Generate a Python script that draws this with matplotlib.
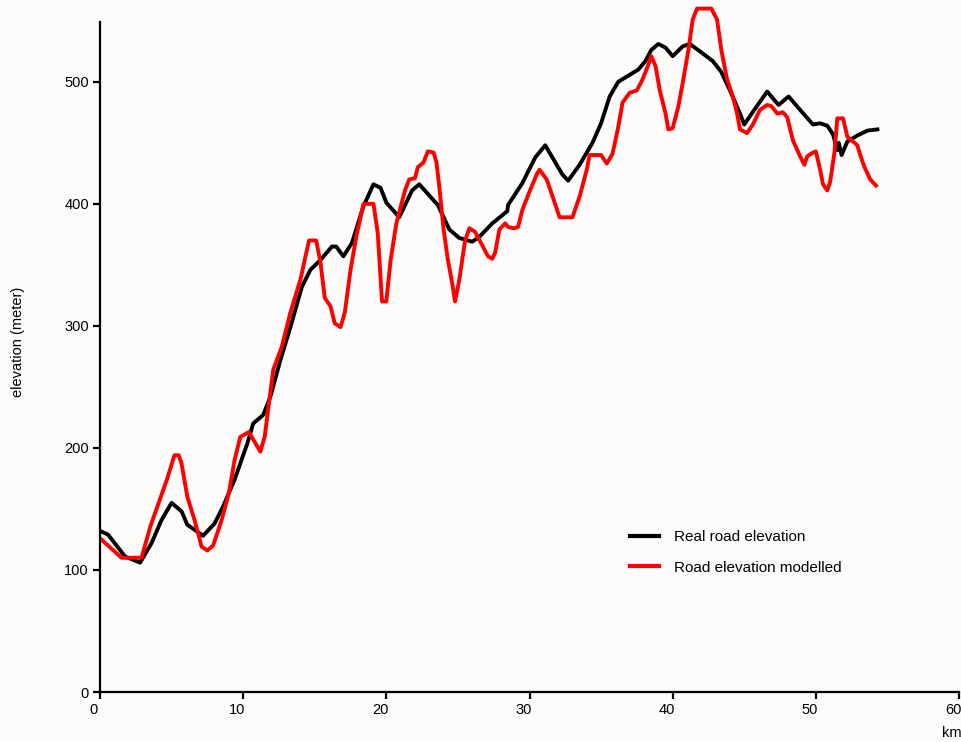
import matplotlib.pyplot as plt
import matplotlib.transforms as mtransforms

plt.rcParams["font.family"] = ["Liberation Sans", "DejaVu Sans"]

# Real road elevation (km, meter)
real_km = [0.0, 0.56, 1.75, 2.8, 3.6, 4.3, 5.0, 5.7, 6.1, 6.6, 7.2, 8.0, 8.6,
           9.4, 10.3, 10.7, 11.4, 11.9, 12.6, 13.3, 14.1, 14.7, 15.4, 16.2,
           16.5, 17.0, 17.6, 18.4, 19.1, 19.6, 20.0, 20.9, 21.8, 22.3, 23.6,
           24.4, 25.1, 26.0, 26.5, 27.4, 28.45, 28.5, 29.5, 30.4, 31.1, 31.6,
           32.3, 32.7, 33.5, 34.4, 35.0, 35.6, 36.2, 36.9, 37.6, 38.1, 38.5,
           39.0, 39.5, 40.0, 40.7, 41.2, 41.9, 42.8, 43.4, 44.0, 44.7, 45.0,
           45.7, 46.6, 47.4, 48.1, 48.9, 49.8, 50.3, 50.8, 51.2, 51.5, 51.6,
           51.8, 52.2, 52.9, 53.6, 54.3]
real_m = [132, 129, 111, 106, 122, 141, 155, 148, 137, 133, 128, 138, 152,
          174, 204, 220, 227, 242, 272, 299, 332, 346, 354, 365,
          365, 357, 368, 398, 416, 413, 401, 389, 411, 416, 399,
          379, 372, 369, 373, 384, 394, 399, 417, 438, 448, 438,
          424, 419, 432, 450, 466, 488, 500, 505, 510, 517, 526,
          531, 528, 521, 529, 531, 525, 517, 508, 493, 474, 465,
          477, 492, 481, 488, 477, 465, 466, 464, 457, 444, 450,
          440, 451, 456, 460, 461]

# Road elevation modelled (km, meter)
model_km = [0.0, 0.56, 1.5, 2.9, 3.5, 4.1, 4.7, 5.2, 5.5, 5.7, 6.1, 6.6, 7.1,
            7.5, 7.9, 8.5, 9.0, 9.4, 9.8, 10.4, 10.7, 11.2, 11.5, 12.1, 12.7,
            13.3, 14.0, 14.6, 15.1, 15.4, 15.7, 16.1, 16.4, 16.8, 17.1, 17.5,
            17.9, 18.4, 19.1, 19.4, 19.7, 20.0, 20.3, 20.7, 21.3, 21.6, 22.0,
            22.2, 22.6, 22.9, 23.3, 23.5, 23.7, 24.0, 24.3, 24.6, 24.8, 25.1,
            25.5, 25.8, 26.2, 26.7, 27.1, 27.4, 27.6, 27.9, 28.3, 28.5, 28.9,
            29.2, 29.5, 30.0, 30.5, 30.7, 31.2, 31.7, 32.1, 33.0, 33.5, 34.0,
            34.2, 35.0, 35.4, 35.8, 36.2, 36.5, 37.0, 37.5, 37.9, 38.3, 38.5,
            38.8, 39.1, 39.5, 39.7, 40.0, 40.4, 40.7, 41.1, 41.4, 41.7, 42.7,
            43.1, 43.4, 43.8, 44.2, 44.5, 44.7, 45.2, 45.6, 46.1, 46.6, 46.9,
            47.3, 47.7, 48.0, 48.4, 48.9, 49.2, 49.4, 49.8, 50.0, 50.3, 50.5,
            50.8, 51.0, 51.3, 51.5, 51.9, 52.2, 52.6, 52.9, 53.1, 53.4, 53.8,
            54.2]
model_m = [126, 120, 110, 110, 135, 155, 175, 194, 194, 187, 160, 141, 119,
           116, 120, 141, 163, 190, 209, 213, 207, 197, 209, 264, 283,
           311, 338, 370, 370, 352, 323, 316, 302, 299, 311, 346,
           373, 400, 400, 376, 320, 320, 354, 384, 411, 420, 421,
           430, 434, 443, 442, 434, 414, 379, 354, 335, 320, 338,
           370, 380, 377, 366, 357, 355, 360, 379, 384, 381, 380,
           381, 395, 410, 424, 428, 420, 403, 389, 389, 406, 428,
           440, 440, 433, 441, 463, 483, 491, 493, 502, 514, 521,
           513, 493, 474, 461, 462, 480, 499, 526, 551, 560, 560,
           551, 526, 502, 488, 474, 461, 458, 465, 477, 481, 480,
           474, 475, 471, 452, 439, 432, 439, 442, 443, 428, 416,
           411, 418, 442, 470, 470, 455, 451, 448, 440, 430, 420,
           415]

x_ticks = [0, 10, 20, 30, 40, 50, 60]
y_ticks = [0, 100, 200, 300, 400, 500]

bg = "#fdfcfb"
fig = plt.figure(figsize=(9.62, 7.42), dpi=100, facecolor=bg)
ax = fig.add_axes([100 / 962, 50 / 742, 862 / 962, 692 / 742], facecolor=bg)

ax.plot(real_km, real_m, color="black", lw=2.8, solid_joinstyle="round",
        label="Real road elevation")
ax.plot(model_km, model_m, color="#ff0000", lw=2.8, solid_joinstyle="round",
        label="Road elevation modelled")

ax.set_xlim(0, 862 / 859 * 60)
ax.set_ylim(0, 692 / 670 * 549)
ax.set_xticks(x_ticks)
ax.set_yticks(y_ticks)
for s in ["top", "right"]:
    ax.spines[s].set_visible(False)
ax.spines["left"].set_bounds(0, 549)
ax.spines["bottom"].set_bounds(0, 60)
ax.spines["left"].set_linewidth(1.6)
ax.spines["bottom"].set_linewidth(1.6)
ax.tick_params(axis="both", direction="out", length=5, width=1.6,
               labelsize=10.5, pad=3)

offset = mtransforms.ScaledTranslation(-6 / 100, 0, fig.dpi_scale_trans)
for lbl in ax.get_xticklabels():
    lbl.set_transform(lbl.get_transform() + offset)

fig.text(952 / 962, 1 - 733 / 742, "km", fontsize=10.5, ha="center", va="center")
fig.text(18 / 962, 1 - 342 / 742, "elevation (meter)", fontsize=10.5,
         rotation=90, ha="center", va="center")

leg = ax.legend(loc="upper left", bbox_to_anchor=(630 / 962, 1 - 530 / 742),
                bbox_transform=fig.transFigure, frameon=False, fontsize=11,
                handlelength=1.9, handletextpad=0.95, labelspacing=1.1,
                borderpad=0, borderaxespad=0)
for h in leg.get_lines():
    h.set_linewidth(3)

fig.savefig("out.png", dpi=100, facecolor=bg)
